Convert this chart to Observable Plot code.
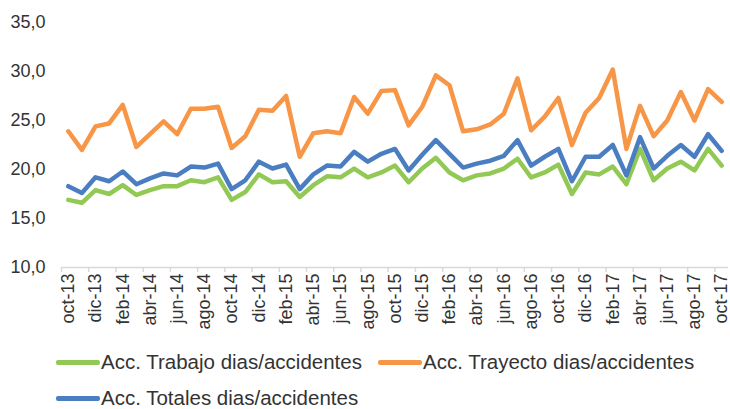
<!DOCTYPE html>
<html>
<head>
<meta charset="utf-8">
<script src="https://cdn.jsdelivr.net/npm/d3@7"></script>
<script src="https://cdn.jsdelivr.net/npm/@observablehq/plot@0.6"></script>
<style>
  html, body { margin: 0; padding: 0; background: #fff; }
  #wrap { position: relative; width: 730px; height: 409px; overflow: hidden; font-family: "Liberation Sans", Arial, sans-serif; color: #333; }
  #chart { position: absolute; left: 0; top: 0; }
  .leg { position: absolute; display: flex; align-items: center; font-size: 20.5px; line-height: 16px; height: 16px; white-space: nowrap; }
  .leg .sw { display: inline-block; width: 44px; height: 5px; border-radius: 2px; margin-right: 1px; }
</style>
</head>
<body>
<div id="wrap">
  <div id="chart"></div>
</div>
<script>
// ---- Data ----
const labels = [
  "oct-13","nov-13","dic-13","ene-14","feb-14","mar-14","abr-14","may-14","jun-14","jul-14","ago-14","sep-14",
  "oct-14","nov-14","dic-14","ene-15","feb-15","mar-15","abr-15","may-15","jun-15","jul-15","ago-15","sep-15",
  "oct-15","nov-15","dic-15","ene-16","feb-16","mar-16","abr-16","may-16","jun-16","jul-16","ago-16","sep-16",
  "oct-16","nov-16","dic-16","ene-17","feb-17","mar-17","abr-17","may-17","jun-17","jul-17","ago-17","sep-17",
  "oct-17"
];
const seriesNames = ["Acc. Trabajo dias/accidentes", "Acc. Trayecto dias/accidentes", "Acc. Totales dias/accidentes"];
const trabajo = [
  16.9, 16.6, 17.9, 17.5, 18.4, 17.4, 17.9, 18.3, 18.3, 18.9, 18.7, 19.2,
  16.9, 17.7, 19.5, 18.7, 18.8, 17.2, 18.4, 19.3, 19.2, 20.1, 19.2, 19.7,
  20.4, 18.7, 20.1, 21.2, 19.7, 18.9, 19.4, 19.6, 20.1, 21.1, 19.2, 19.7,
  20.5, 17.5, 19.7, 19.5, 20.3, 18.5, 22.1, 18.9, 20.1, 20.8, 19.9, 22.1,
  20.4
];
const trayecto = [
  23.9, 22.0, 24.4, 24.7, 26.6, 22.3, 23.6, 24.9, 23.6, 26.2, 26.2, 26.4,
  22.2, 23.4, 26.1, 26.0, 27.5, 21.3, 23.7, 23.9, 23.7, 27.4, 25.7, 28.0,
  28.1, 24.5, 26.4, 29.6, 28.6, 23.9, 24.1, 24.6, 25.7, 29.3, 24.0, 25.4,
  27.3, 22.5, 25.8, 27.3, 30.2, 22.1, 26.5, 23.4, 25.0, 27.9, 25.0, 28.2,
  26.9
];
const totales = [
  18.3, 17.6, 19.2, 18.8, 19.8, 18.5, 19.1, 19.6, 19.4, 20.3, 20.2, 20.6,
  18.0, 18.9, 20.8, 20.1, 20.5, 18.0, 19.5, 20.4, 20.3, 21.8, 20.8, 21.6,
  22.1, 19.9, 21.5, 23.0, 21.6, 20.2, 20.6, 20.9, 21.4, 23.0, 20.4, 21.3,
  22.1, 18.8, 21.3, 21.3, 22.5, 19.4, 23.3, 20.1, 21.4, 22.5, 21.3, 23.6,
  21.9
];
const yTicks = [10, 15, 20, 25, 30, 35];
const colors = ["#92C955", "#F79646", "#4A7EC0"];

// ---- Build table ----
const seriesValues = [trabajo, trayecto, totales];
const rows = [];
seriesValues.forEach((vals, s) => vals.forEach((v, i) => rows.push({i, v, s: seriesNames[s]})));

const labelIdx = labels.map((_, i) => i).filter(i => i % 2 === 0);
const boundaryIdx = labels.map((_, i) => i - 0.5).filter((_, i) => i % 2 === 0);

const fmt = d => d.toFixed(1).replace(".", ",");

const chart = Plot.plot({
  width: 730,
  height: 340,
  marginLeft: 61,
  marginRight: 2,
  marginTop: 22,
  marginBottom: 73,
  style: { fontFamily: "'Liberation Sans', Arial, sans-serif", color: "#333", background: "transparent", overflow: "visible" },
  x: { type: "linear", domain: [-0.5, labels.length - 0.5], label: null },
  y: { domain: [10, 35], label: null },
  color: { domain: seriesNames, range: colors },
  marks: [
    Plot.ruleY([10], { stroke: "#d9d9d9", strokeWidth: 1.5 }),
    Plot.axisX({ ticks: boundaryIdx, tickSize: 5, tickFormat: () => "", stroke: "#d9d9d9", strokeWidth: 1.5, label: null }),
    Plot.axisX({ ticks: labelIdx, tickSize: 0, tickPadding: 6, tickRotate: -90, tickFormat: i => labels[i], fontSize: 18, fill: "#333", label: null }),
    Plot.axisY({ ticks: yTicks, tickSize: 0, tickPadding: 16, tickFormat: fmt, fontSize: 18, fill: "#333", label: null }),
    Plot.line(rows, { x: "i", y: "v", z: "s", stroke: "s", strokeWidth: 4.5, strokeLinejoin: "round", strokeLinecap: "round" })
  ]
});
document.getElementById("chart").appendChild(chart);

// ---- Legend ----
const legendPos = [
  { left: 56, top: 354 },
  { left: 378, top: 354 },
  { left: 56, top: 390 }
];
const wrap = document.getElementById("wrap");
seriesNames.forEach((name, k) => {
  const d = document.createElement("div");
  d.className = "leg";
  d.style.left = legendPos[k].left + "px";
  d.style.top = legendPos[k].top + "px";
  const sw = document.createElement("span");
  sw.className = "sw";
  sw.style.background = colors[k];
  const t = document.createElement("span");
  t.textContent = name;
  d.appendChild(sw);
  d.appendChild(t);
  wrap.appendChild(d);
});
</script>
</body>
</html>
